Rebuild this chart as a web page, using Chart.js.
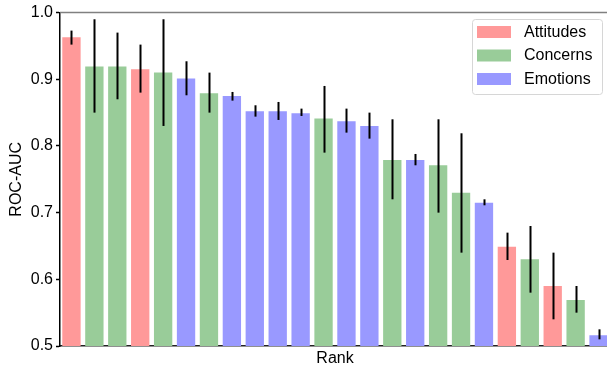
<!DOCTYPE html>
<html>
<head>
<meta charset="utf-8">
<script src="https://cdn.jsdelivr.net/npm/chart.js@4.4.0/dist/chart.umd.min.js"></script>
<style>
  html, body { margin: 0; padding: 0; background: #fff; }
  #wrap { width: 607px; height: 368px; overflow: hidden; }
</style>
</head>
<body>
<div id="wrap"><canvas id="rocChart" width="612" height="368"></canvas></div>
<script>
const ranks = Array.from({length: 24}, (_, i) => i + 1);
const groups = ['Attitudes', 'Concerns', 'Concerns', 'Attitudes', 'Concerns', 'Emotions', 'Concerns', 'Emotions',
  'Emotions', 'Emotions', 'Emotions', 'Concerns', 'Emotions', 'Emotions', 'Concerns', 'Emotions',
  'Concerns', 'Concerns', 'Emotions', 'Attitudes', 'Concerns', 'Attitudes', 'Concerns', 'Emotions'];
const auc = [0.963, 0.919, 0.919, 0.915, 0.910, 0.901, 0.879, 0.875, 0.852, 0.852, 0.849, 0.841,
  0.837, 0.830, 0.779, 0.779, 0.771, 0.730, 0.715, 0.649, 0.630, 0.590, 0.569, 0.516];
const errLow = [0.952, 0.850, 0.870, 0.880, 0.830, 0.876, 0.850, 0.868, 0.844, 0.839, 0.845, 0.790,
  0.820, 0.811, 0.720, 0.771, 0.700, 0.640, 0.711, 0.629, 0.580, 0.540, 0.550, 0.510];
const errHigh = [0.973, 0.990, 0.970, 0.952, 0.990, 0.927, 0.910, 0.881, 0.861, 0.866, 0.856, 0.890,
  0.856, 0.850, 0.840, 0.788, 0.840, 0.819, 0.720, 0.670, 0.680, 0.640, 0.590, 0.525];
const groupNames = ['Attitudes', 'Concerns', 'Emotions'];
const groupColors = ['#ff9999', '#99cc99', '#9999ff'];
const yTicks = [0.5, 0.6, 0.7, 0.8, 0.9, 1.0];

const FONT = '"Liberation Sans", Arial, sans-serif';

const datasets = groupNames.map((g, k) => ({
  label: g,
  data: auc.map((v, i) => groups[i] === g ? v : null),
  backgroundColor: groupColors[k],
  borderWidth: 0,
  grouped: false,
  barPercentage: 0.8,
  categoryPercentage: 1.0
}));

// error bars, top spine and the in-plot legend
const extras = {
  id: 'extras',
  afterDatasetsDraw(chart) {
    const c = chart.ctx, xs = chart.scales.x, ys = chart.scales.y, a = chart.chartArea;
    c.save();
    c.strokeStyle = '#000';
    c.lineWidth = 2;
    for (let i = 0; i < auc.length; i++) {
      const x = Math.round(xs.getPixelForValue(i)) + 0.5;
      c.beginPath();
      c.moveTo(x, ys.getPixelForValue(errLow[i]));
      c.lineTo(x, ys.getPixelForValue(errHigh[i]));
      c.stroke();
    }
    c.strokeStyle = '#808080';
    c.lineWidth = 1.5;
    c.beginPath();
    c.moveTo(a.left, a.top);
    c.lineTo(a.right, a.top);
    c.stroke();
    c.restore();
  },
  afterDraw(chart) {
    const c = chart.ctx;
    c.save();
    c.beginPath();
    c.roundRect(472.5, 19.5, 130, 75, 3);
    c.fillStyle = 'rgba(255,255,255,0.8)';
    c.fill();
    c.strokeStyle = '#d6d6d6';
    c.lineWidth = 1;
    c.stroke();
    c.font = '16px ' + FONT;
    c.textBaseline = 'middle';
    chart.data.datasets.forEach((ds, k) => {
      const y = 26 + k * 23.5;
      c.fillStyle = ds.backgroundColor;
      c.fillRect(477, y, 34, 12);
      c.fillStyle = '#000';
      c.fillText(ds.label, 524, y + 6.5);
    });
    c.restore();
  }
};

const ctx = document.getElementById('rocChart').getContext('2d');
const rocChart = new Chart(ctx, {
  type: 'bar',
  data: { labels: ranks, datasets: datasets },
  options: {
    responsive: false,
    animation: false,
    layout: { padding: { left: 7, right: 2, top: 11, bottom: 0 } },
    plugins: { legend: { display: false }, tooltip: { enabled: false } },
    scales: {
      x: {
        grid: { display: false },
        ticks: { display: false },
        border: { display: true, color: '#222', width: 1.5 },
        title: { display: true, text: 'Rank', color: '#000', font: { family: FONT, size: 16 }, padding: 0 },
        afterFit(s) { s.height = 22; }
      },
      y: {
        min: 0.5,
        max: 1.0,
        afterBuildTicks(s) { s.ticks = yTicks.map(v => ({ value: v })); },
        ticks: {
          color: '#000',
          font: { family: FONT, size: 16 },
          padding: 3,
          callback: v => v.toFixed(1)
        },
        grid: { drawOnChartArea: false, tickLength: 4, tickColor: '#000', tickWidth: 1.5 },
        border: { display: true, color: '#000', width: 1.5 },
        title: { display: true, text: 'ROC-AUC', color: '#000', font: { family: FONT, size: 16 }, padding: 0 },
        afterFit(s) { s.width = 53; }
      }
    }
  },
  plugins: [extras]
});
</script>
</body>
</html>
